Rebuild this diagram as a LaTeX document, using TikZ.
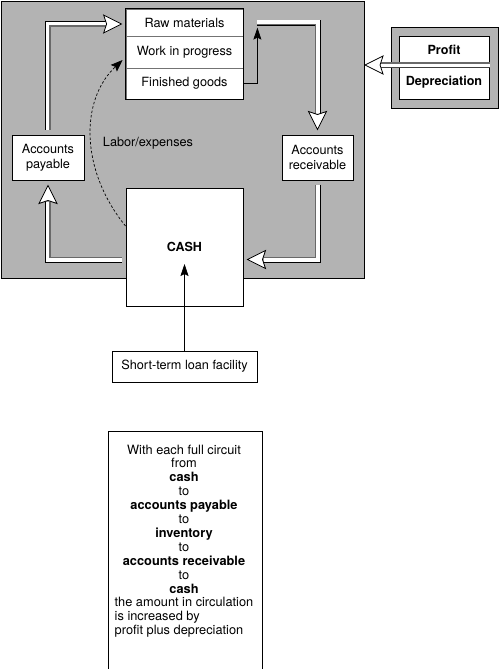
\documentclass[tikz,border=0pt]{standalone}
\usepackage{fontspec}
\setmainfont{TeX Gyre Heros}
\usetikzlibrary{arrows.meta,calc}
\definecolor{bggray}{RGB}{179,179,179}
\definecolor{shade}{RGB}{105,105,105}
\begin{document}
\begin{tikzpicture}[x=1pt,y=-1pt,
  txt/.style={inner sep=0pt, align=center, font=\fontsize{12.7}{15}\selectfont},
  box/.style={txt, draw=black, line width=1pt, fill=white},
  part/.style={txt, draw=black!55, line width=0.8pt, fill=white, minimum width=117},
  frame/.style={draw=black, line width=1pt, inner sep=0pt},
  hb/.style={line width=6pt, draw=black},
  hw/.style={line width=4.2pt, draw=white},
  hs/.style={line width=1.4pt, draw=shade},
  headshape/.style={draw=black, fill=white, line width=0.8pt, line join=miter},
  thinarrow/.style={line width=0.8pt, -{Stealth[length=12pt, width=8pt, inset=2pt]}},
  dasharrow/.style={line width=0.7pt, dash pattern=on 2.5pt off 2pt, -{Stealth[length=12pt, width=9pt, inset=2pt]}}
]
\useasboundingbox (0,0) rectangle (500,669);
\clip (0,0) rectangle (500,669);
\fill[white] (0,0) rectangle (500,669);

% background panel
\node[frame, fill=bggray, minimum width=363, minimum height=277, anchor=north west] (bg) at (1,1) {};

% inventory
\node[part, minimum height=27] (rm) at (184.5,22.5) {Raw materials};
\node[part, minimum height=32] (wip) at (184.5,52) {Work in progress};
\node[part, minimum height=31] (fg) at (184.5,83.5) {Finished goods};
\draw[line width=1pt] (rm.north west) rectangle (fg.south east);

% boxes
\node[box, minimum width=72, minimum height=45] (ap) at (48,157.5) {Accounts\\payable};
\node[box, minimum width=71, minimum height=45] (ar) at (317.5,157.5) {Accounts\\receivable};
\node[box, minimum width=117, minimum height=118, font=\fontsize{12.5}{15}\selectfont\bfseries] (cash) at (184.5,247) {CASH};
\node[box, minimum width=145, minimum height=31] (loan) at (184.5,366.5) {Short-term loan facility};

% profit / depreciation
\node[frame, fill=bggray, minimum width=107, minimum height=80] (pframe) at (444.5,68) {};
\node[frame, fill=white, minimum width=90, minimum height=62] (pinner) at (444,68) {};
\node[txt, font=\fontsize{12.6}{15}\selectfont\bfseries] (profit) at (444,50) {Profit};
\node[txt, font=\fontsize{12.6}{15}\selectfont\bfseries] (dep) at (444,82) {Depreciation};

% label
\node[txt] (labor) at (148,143) {Labor/expenses};

% coordinates
\coordinate (a1s) at ($(ap.north)+(0,-5)$);
\coordinate (a1t) at ($(rm.west)+(-4,1.5)$);
\coordinate (a1b) at ($(a1t)+(-16,0)$);

\coordinate (tx) at ($(fg.east)+(14,0)$);
\coordinate (a3s) at ($(tx|-rm.north)+(0,14)$);
\coordinate (a3t) at ($(ar.north)+(0,-5)$);
\coordinate (a3b) at ($(a3t)+(0,-16)$);

\coordinate (a4s) at ($(ar.south)+(0,4)$);
\coordinate (a4t) at ($(cash.east)+(4,12.5)$);
\coordinate (a4b) at ($(a4t)+(16,0)$);

\coordinate (a5s) at ($(cash.west)+(-4,12.5)$);
\coordinate (a5t) at ($(ap.south)+(0,5)$);
\coordinate (a5b) at ($(a5t)+(0,16)$);

\coordinate (a6s) at ($(pinner.east)+(0,-3)$);
\coordinate (a6t) at (bg.east|-a6s);
\coordinate (a6b) at ($(a6t)+(16,0)$);

% hollow arrow 1: payable -> raw materials
\draw[hb] (a1s) -- (a1s|-a1t) -- (a1b);
\draw[hw] (a1s) -- (a1s|-a1t) -- (a1b);
\draw[hs] ($(a1s)+(2.1,0)$) -- ($(a1s|-a1t)+(2.1,2.1)$) -- ($(a1b)+(0,2.1)$);
\draw[headshape] (a1t) -- ++(-18,-9) -- ++(3,9) -- ++(-3,9) -- cycle;

% hollow arrow 3: inventory -> receivable
\draw[hb] (a3s) -- (a3t|-a3s) -- (a3b);
\draw[hw] (a3s) -- (a3t|-a3s) -- (a3b);
\draw[hs] ($(a3s)+(0,2.1)$) -- ($(a3t|-a3s)+(-2.1,2.1)$) -- ($(a3b)+(-2.1,0)$);
\draw[headshape] (a3t) -- ++(-9,-18) -- ++(9,3) -- ++(9,-3) -- cycle;

% hollow arrow 4: receivable -> cash
\draw[hb] (a4s) -- (a4s|-a4t) -- (a4b);
\draw[hw] (a4s) -- (a4s|-a4t) -- (a4b);
\draw[hs] ($(a4s)+(-2.1,0)$) -- ($(a4s|-a4t)+(-2.1,-2.1)$) -- ($(a4b)+(0,-2.1)$);
\draw[headshape] (a4t) -- ++(18,-9) -- ++(-3,9) -- ++(3,9) -- cycle;

% hollow arrow 5: cash -> payable
\draw[hb] (a5s) -- (a5t|-a5s) -- (a5b);
\draw[hw] (a5s) -- (a5t|-a5s) -- (a5b);
\draw[hs] ($(a5s)+(0,-2.1)$) -- ($(a5t|-a5s)+(2.1,-2.1)$) -- ($(a5b)+(2.1,0)$);
\draw[headshape] (a5t) -- ++(-9,18) -- ++(9,-3) -- ++(9,3) -- cycle;

% hollow arrow 6: profit -> panel
\draw[hb, draw=black!75] (a6s) -- (a6b);
\draw[hw] (a6s) -- (a6b);
\draw[hs] ($(a6s)+(0,-2.1)$) -- ($(a6b)+(0,-2.1)$);
\draw[headshape] (a6t) -- ++(18,-9) -- ++(-3,9) -- ++(3,9) -- cycle;

% thin arrows
\draw[thinarrow] (fg.east) -- (tx) -- ($(tx|-rm.north)+(0,19)$);
\draw[thinarrow] (loan.north) -- ($(cash.center)+(0,17)$);
\draw[dasharrow] ($(cash.west)+(0,-21)$) .. controls (80,170) and (80,100) .. ($(wip.west)+(-3,8)$);

% note box
\node[frame, minimum width=154, minimum height=260, anchor=north] (notebox) at (185,431) {};
\node[inner sep=0pt, anchor=base, font=\fontsize{12.8}{13.9}\selectfont] (note) at (184,454) {%
\begin{tabular}[t]{@{}c@{}}
With each full circuit\\
from\\
\textbf{cash}\\
to\\
\textbf{accounts payable}\\
to\\
\textbf{inventory}\\
to\\
\textbf{accounts receivable}\\
to\\
\textbf{cash}\\
\multicolumn{1}{@{}l@{}}{the amount in circulation}\\
\multicolumn{1}{@{}l@{}}{is increased by}\\
\multicolumn{1}{@{}l@{}}{profit plus depreciation}
\end{tabular}};
\end{tikzpicture}
\end{document}
